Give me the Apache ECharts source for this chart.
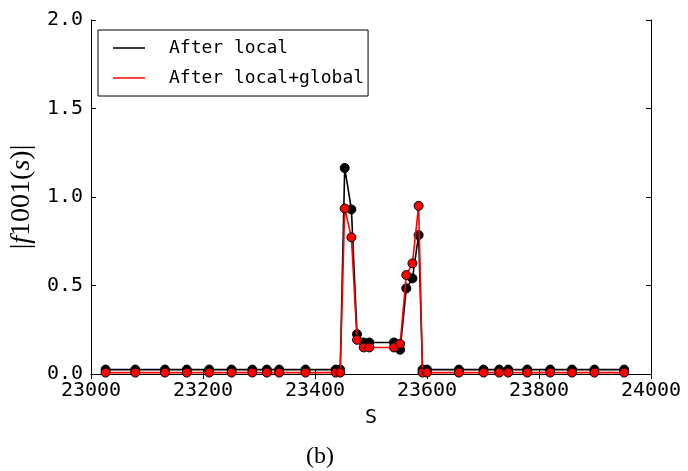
<!DOCTYPE html>
<html><head><meta charset="utf-8">
<script src="https://cdn.jsdelivr.net/npm/echarts@6/dist/echarts.min.js"></script>
<style>html,body{margin:0;padding:0;background:#fff}#c{width:688px;height:471px}</style>
</head><body><div id="c"></div>
<script>
const sPos = [23026,23079,23132,23171,23211,23251,23288,23314,23336,23383,23437,23445,
  23453,23465,23475,23487,23497,23541,23552,23563,23574,23585,23592,23600,
  23657,23701,23729,23745,23779,23820,23859,23899,23952];
const afterLocal = [0.025,0.025,0.025,0.025,0.025,0.025,0.025,0.025,0.025,0.025,0.025,0.025,
  1.164,0.93,0.225,0.178,0.178,0.178,0.137,0.484,0.54,0.785,0.025,0.025,
  0.025,0.025,0.025,0.025,0.025,0.025,0.025,0.025,0.025];
const afterLocalGlobal = [0.008,0.008,0.008,0.008,0.008,0.008,0.008,0.008,0.008,0.008,0.008,0.008,
  0.935,0.772,0.193,0.15,0.15,0.15,0.17,0.559,0.625,0.95,0.008,0.008,
  0.008,0.008,0.008,0.008,0.008,0.008,0.008,0.008,0.008];
const seriesNames = ['After local','After local+global'];
const xTicks = {min:23000, max:24000, interval:200};
const yTicks = {min:0, max:2, interval:0.5};

const mono = 'DejaVu Sans Mono';
const chart = echarts.init(document.getElementById('c'), null, {renderer:'canvas'});
const pair = (vals) => sPos.map((s,i)=>[s, vals[i]]);
const axLine = {show:true, lineStyle:{color:'#000', width:1}};
const tick = {show:true, inside:true, length:5, lineStyle:{color:'#000', width:1}};
chart.setOption({
  animation:false,
  grid:{left:88, top:20, width:563, height:354, containLabel:false},
  graphic:[{type:'text', left:306, top:445, style:{text:'(b)', font:'24px "Liberation Serif"', fill:'#000'}}],
  legend:{
    left:98, top:30, orient:'vertical', data:seriesNames,
    icon:'rect', itemWidth:32, itemHeight:1.5, itemGap:12,
    itemStyle:{borderWidth:0},
    padding:[9,4,9,15], borderColor:'#000', borderWidth:1, borderRadius:0,
    textStyle:{fontFamily:mono, fontSize:18, color:'#000', lineHeight:18, padding:[0,0,0,19]}
  },
  xAxis:[{
    type:'value', min:xTicks.min, max:xTicks.max, interval:xTicks.interval,
    name:'S', nameLocation:'middle', nameGap:34,
    nameTextStyle:{fontFamily:mono, fontSize:20, color:'#000'},
    axisLine:axLine, axisTick:tick, splitLine:{show:false},
    axisLabel:{fontFamily:mono, fontSize:20, color:'#000', margin:7, formatter:(v)=>String(v)}
  },{
    type:'value', position:'top', min:xTicks.min, max:xTicks.max, interval:xTicks.interval,
    axisLine:axLine, axisTick:tick, splitLine:{show:false}, axisLabel:{show:false}
  }],
  yAxis:[{
    type:'value', min:yTicks.min, max:yTicks.max, interval:yTicks.interval,
    name:'{a||}{i|f}{a|1001(}{i|s}{a|)|}', nameLocation:'middle', nameGap:44, nameRotate:90,
    nameTextStyle:{rich:{
      a:{fontFamily:'Liberation Serif', fontSize:28, color:'#000'},
      i:{fontFamily:'Liberation Serif', fontSize:28, fontStyle:'italic', color:'#000'}
    }},
    axisLine:axLine, axisTick:tick, splitLine:{show:false},
    axisLabel:{fontFamily:mono, fontSize:20, color:'#000', margin:8, formatter:(v)=>v.toFixed(1)}
  },{
    type:'value', position:'right', min:yTicks.min, max:yTicks.max, interval:yTicks.interval,
    axisLine:axLine, axisTick:tick, splitLine:{show:false}, axisLabel:{show:false}
  }],
  series:[
    {name:seriesNames[0], type:'line', data:pair(afterLocal), symbol:'circle', symbolSize:9,
     lineStyle:{color:'#000', width:1.6}, itemStyle:{color:'#000', borderColor:'#000', borderWidth:1}, z:2},
    {name:seriesNames[1], type:'line', data:pair(afterLocalGlobal), symbol:'circle', symbolSize:9,
     lineStyle:{color:'#ff0000', width:1.6}, itemStyle:{color:'#ff0000', borderColor:'#000', borderWidth:1}, z:3}
  ]
});
</script></body></html>
